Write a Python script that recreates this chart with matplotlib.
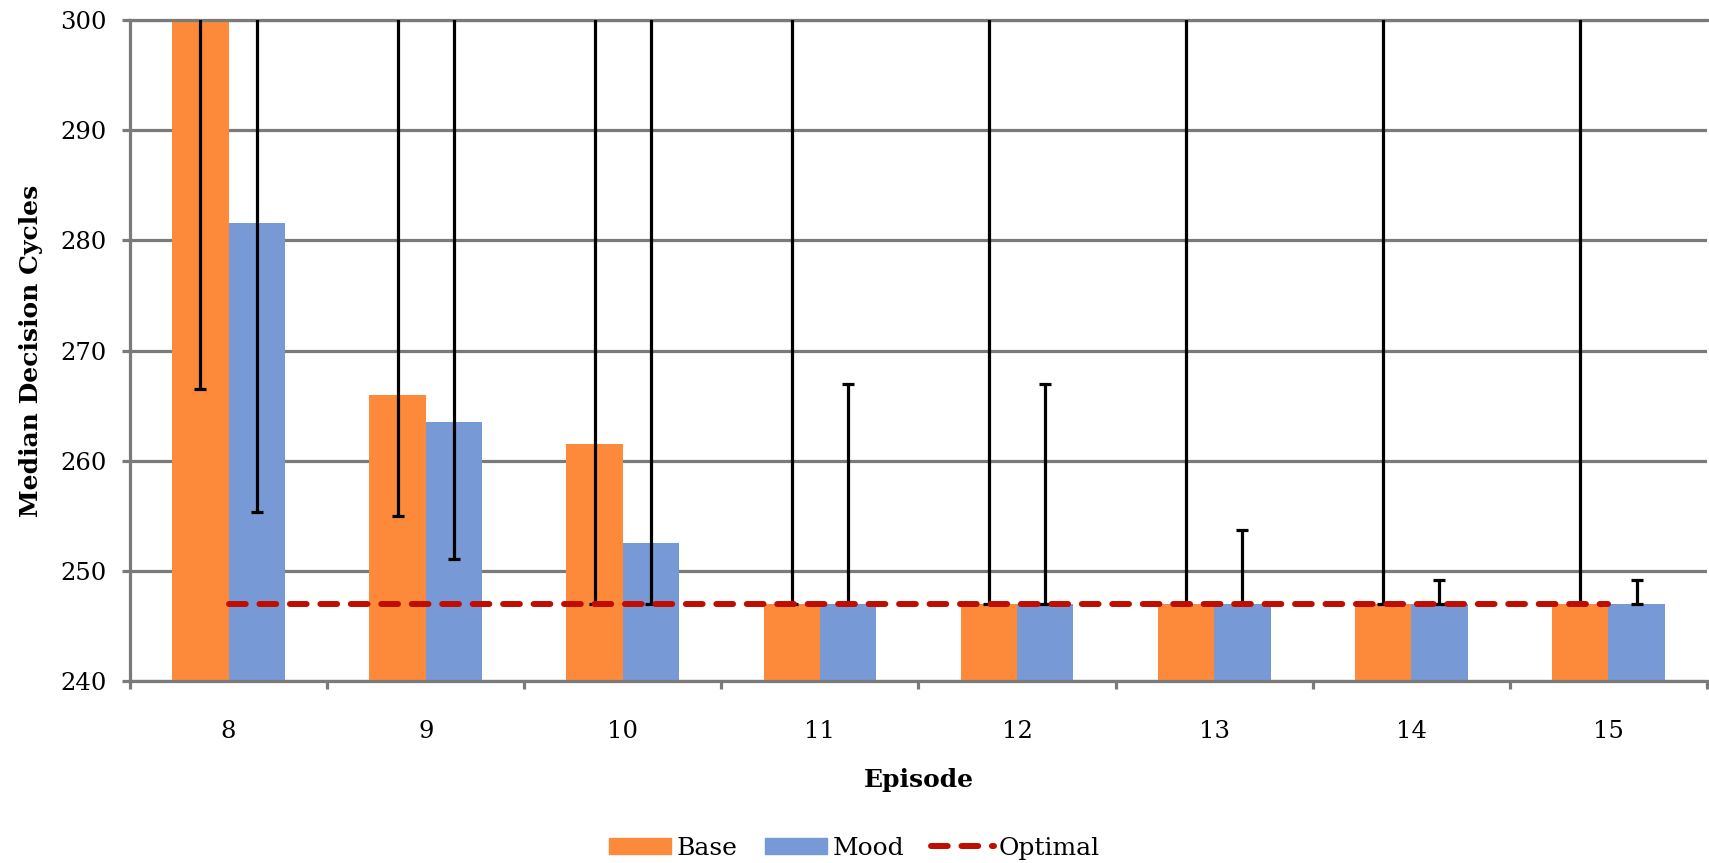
import numpy as np
import matplotlib
matplotlib.use("Agg")
import matplotlib.pyplot as plt
from matplotlib.patches import Patch
from matplotlib.lines import Line2D

# data
episodes = ["8", "9", "10", "11", "12", "13", "14", "15"]
base = [305, 266, 261.5, 247, 247, 247, 247, 247]
mood = [281.55, 263.55, 252.5, 247, 247, 247, 247, 247]
# error bar ends (values above 300 run off the top of the chart)
base_lo = [266.5, 255.0, 247, 247, 247, 247, 247, 247]
base_hi = [330, 330, 330, 330, 330, 330, 330, 330]
mood_lo = [255.35, 251.1, 247, 247, 247, 247, 247, 247]
mood_hi = [330, 330, 330, 267, 267, 253.7, 249.2, 249.2]
optimal = [247] * 8

ORANGE = "#FD8A3A"
BLUE = "#7799D6"
RED = "#C00D00"
GREY = "#7A7A7A"

plt.rcParams['font.family'] = ['DejaVu Serif']

fig = plt.figure(figsize=(17.09, 8.63), dpi=100)
ax = fig.add_axes([130 / 1709, 1 - 681 / 863, 1577 / 1709, 661 / 863])

x = np.arange(len(episodes))
w = 1 / 3.5

base = np.array(base)
mood = np.array(mood)
ax.bar(x - w / 2, base, w, color=ORANGE, zorder=2)
ax.bar(x + w / 2, mood, w, color=BLUE, zorder=2)

b_err = [base - np.array(base_lo), np.array(base_hi) - base]
m_err = [mood - np.array(mood_lo), np.array(mood_hi) - mood]
ax.errorbar(x - w / 2, base, yerr=b_err, fmt="none", ecolor="black",
            elinewidth=2.3, capsize=4.3, capthick=2.3, zorder=3)
ax.errorbar(x + w / 2, mood, yerr=m_err, fmt="none", ecolor="black",
            elinewidth=2.3, capsize=4.3, capthick=2.3, zorder=3)

ax.plot(x, optimal, color=RED, lw=4.3, linestyle=(0, (2.8, 2.3)),
        dash_capstyle="round", zorder=4)

ax.set_xlim(-0.5, len(episodes) - 0.5)
ax.set_ylim(240, 300)
ax.set_yticks(np.arange(240, 301, 10))
ax.yaxis.grid(True, color=GREY, lw=2.3, zorder=0)
ax.set_axisbelow(True)

ax.set_xticks(x)
ax.set_xticklabels(episodes)
ax.set_xticks(np.arange(-0.5, len(episodes)), minor=True)
ax.tick_params(axis="x", which="major", length=0, pad=28, labelsize=17.5)
ax.tick_params(axis="x", which="minor", length=6, width=2.3, color=GREY)
ax.tick_params(axis="y", length=6, width=2.3, color=GREY, pad=11, labelsize=17.5)

ax.spines["right"].set_visible(False)
for s in ["left", "bottom", "top"]:
    ax.spines[s].set_color(GREY)
    ax.spines[s].set_linewidth(2.3)

ax.set_xlabel("Episode", fontsize=18, fontweight="bold", labelpad=18)
ax.set_ylabel("Median Decision Cycles", fontsize=18, fontweight="bold", labelpad=12)

handles = [Patch(color=ORANGE, label="Base"),
           Patch(color=BLUE, label="Mood"),
           Line2D([0], [0], color=RED, lw=4.3, linestyle=(0, (2.8, 2.3)),
                  dash_capstyle="round", label="Optimal")]
fig.legend(handles=handles, loc="center", bbox_to_anchor=(0.5, 1 - 848 / 863),
           ncol=3, frameon=False, fontsize=18, handlelength=2.5,
           handleheight=0.6, columnspacing=1.1, handletextpad=0.2)

fig.savefig("out.png", dpi=100)
